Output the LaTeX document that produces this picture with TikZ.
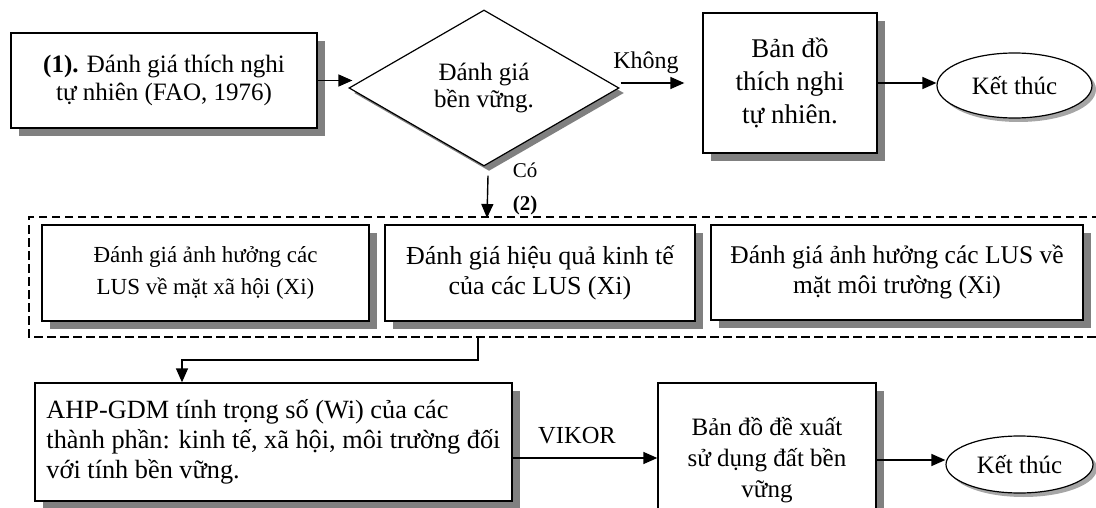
\documentclass[tikz,border=0pt]{standalone}
\usepackage{fontspec}
\setmainfont{Liberation Serif}
\usetikzlibrary{shapes.geometric,arrows.meta,shadows}
\definecolor{shadowgray}{RGB}{128,128,128}
\newcommand\setfs[2]{\fontsize{#1}{#2}\selectfont}
\begin{document}
\begin{tikzpicture}[x=1pt,y=-1pt,
  box/.style={draw, line width=1.3pt, fill=white, align=center, inner sep=0pt,
    drop shadow={shadow xshift=8pt, shadow yshift=-8pt, fill=shadowgray, opacity=1}},
  endell/.style={draw, ellipse, line width=1.2pt, fill=white, inner sep=0pt,
    font=\setfs{25}{28},
    drop shadow={shadow xshift=4pt, shadow yshift=-4pt, fill=gray!70, opacity=1}},
  arr/.style={line width=1.4pt, -{Triangle[length=14pt,width=12pt]}},
  grp/.style={line width=2.3pt, dash pattern=on 8.5pt off 4.5pt},
  lab/.style={inner sep=0pt}
]
\useasboundingbox (0,0) rectangle (1096,508);

% top row
\node[box, minimum width=306pt, minimum height=95pt, font=\setfs{25}{28}] (b1) at (164,80.5)
  {\textbf{(1).} Đánh giá thích nghi\\tự nhiên (FAO, 1976)};
\node[draw, diamond, line width=1.2pt, fill=white, minimum width=270pt, minimum height=156pt,
  inner sep=0pt, aspect=1.7, align=center, font=\setfs{25}{27},
  drop shadow={shadow xshift=5pt, shadow yshift=-5pt, fill=shadowgray, opacity=1}] (dia) at (484,88)
  {Đánh giá\\bền vững.};
\node[box, minimum width=174pt, minimum height=140pt, font=\setfs{27}{33}] (b2) at (790,83)
  {Bản đồ\\thích nghi\\tự nhiên.};
\node[endell, minimum width=155pt, minimum height=65pt] (e1) at (1014.5,85.5) {Kết thúc};

\draw[arr] (b1.east) -- ([xshift=4pt]dia.west |- b1.east);
\draw[arr] ([xshift=1pt]dia.east |- b2.west) -- ([xshift=-18pt]b2.west);
\node[lab, font=\setfs{24}{28}] (kh) at (646,63) {Không};
\draw[arr] (b2.east) -- (e1.west |- b2.east);

% group (dashed frame, running off the right edge)
\coordinate (gtl) at (29,217);
\coordinate (gbl) at (29,337);
\coordinate (gtr) at (1100,217);
\coordinate (gbr) at (1100,337);
\draw[grp] (gtr) -- (gtl) -- (gbl) -- (gbr);
\coordinate (gin) at (487,218);
\coordinate (gout) at (478,337);

\draw[arr] ([xshift=4pt,yshift=-9pt]dia.south) -- (gin);
\node[lab, font=\setfs{21}{24}] (co) at (525,170) {Có};
\node[lab, font=\setfs{21}{24}\bfseries] (n2) at (525,205) {(2)};

\node[box, minimum width=327pt, minimum height=96pt, font=\setfs{23}{32}] (xa) at (205.5,273)
  {Đánh giá ảnh hưởng các\\LUS về mặt xã hội (Xi)};
\node[box, minimum width=310pt, minimum height=96pt, font=\setfs{26}{30}] (xb) at (540,273)
  {Đánh giá hiệu quả kinh tế\\của các LUS (Xi)};
\node[box, minimum width=372pt, minimum height=95pt, font=\setfs{25.5}{30}] (xc) at (897,272.5)
  {Đánh giá ảnh hưởng các LUS về\\mặt môi trường (Xi)};

% bottom row
\node[box, align=left, minimum width=477pt, minimum height=118pt, font=\setfs{26.3}{30}] (D) at (273.5,442)
  {AHP-GDM tính trọng số (Wi) của các\\thành phần: kinh tế, xã hội, môi trường đối\\với tính bền vững.};
\node[box, minimum width=218pt, minimum height=154pt, font=\setfs{25}{31}] (E) at (767,460)
  {Bản đồ đề xuất\\sử dụng đất bền\\vững};
\node[endell, minimum width=147pt, minimum height=57pt] (e2) at (1019.5,464.5) {Kết thúc};

\draw[arr] (gout) -- ++(0,23) -| ([xshift=-91.5pt]D.north);
\draw[arr] ([yshift=-16pt]D.east) -- ([yshift=-16pt]D.east -| E.west);
\node[lab, font=\setfs{24.5}{28}] (vk) at (577,436) {VIKOR};
\draw[arr] (E.east) -- (e2.west |- E.east);
\end{tikzpicture}
\end{document}
